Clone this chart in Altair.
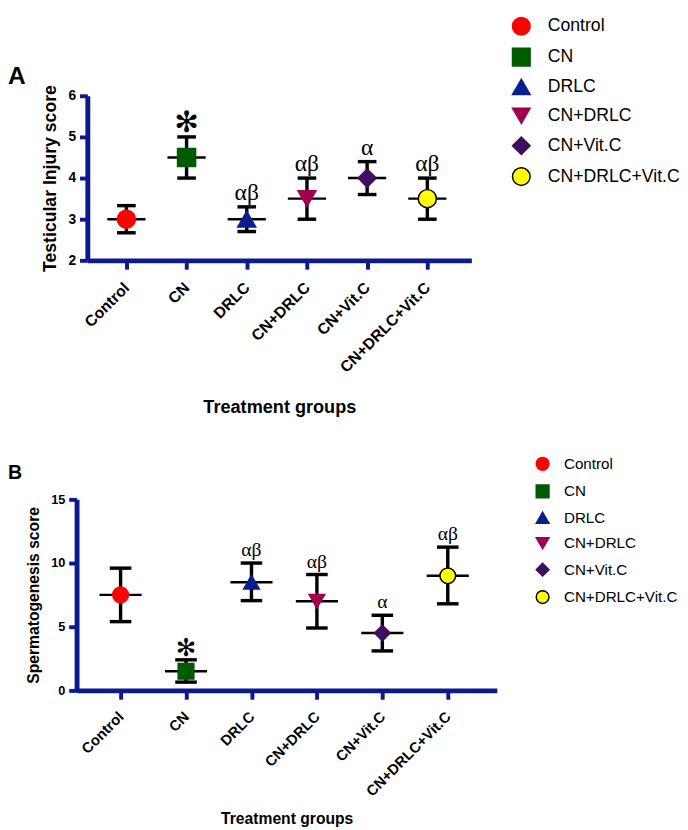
import altair as alt
import pandas as pd

groups = ["Control", "CN", "DRLC", "CN+DRLC", "CN+Vit.C", "CN+DRLC+Vit.C"]
fills = ["#FF0000", "#005A00", "#0A1E8C", "#A0004F", "#3D0F5E", "#FFFF00"]
strokes = ["#FF0000", "#005A00", "#0A1E8C", "#A0004F", "#3D0F5E", "#000000"]
shapes = ["circle", "square", "triangle-up", "triangle-down", "diamond", "circle"]

injury_mean = [3.0, 4.5, 3.0, 3.5, 4.0, 3.5]
injury_low = [2.67, 4.0, 2.7, 3.0, 3.6, 3.0]
injury_high = [3.33, 5.0, 3.3, 4.0, 4.4, 4.0]
injury_sig = ["", "✻", "αβ", "αβ", "α", "αβ"]

sperm_mean = [7.5, 1.5, 8.5, 7.0, 4.5, 9.0]
sperm_low = [5.4, 0.65, 7.05, 4.9, 3.1, 6.8]
sperm_high = [9.6, 2.4, 10.0, 9.1, 5.9, 11.25]
sperm_sig = ["", "✻", "αβ", "αβ", "α", "αβ"]

NAVY = "#0B1A8C"
SANS = "Liberation Sans"
SERIF = "Liberation Serif"


def panel(mean, low, high, sig, letter, ytitle, ydomain, yvalues, width, height,
          xstart, pad, align, xlab_size, ylab_size, ytitle_size, xtitle_size, cap,
          meanw, msize, leg_x, leg_y, leg_font, leg_sym, leg_row, leg_off,
          letter_size, letter_x, letter_y, greek_size, star_size, star_dy,
          xlab_pad, xtitle_pad):
    df = pd.DataFrame({"group": groups, "mean": mean, "low": low,
                       "high": high, "sig": sig})
    xaxis = alt.Axis(title="Treatment groups", labelAngle=-45, labelAlign="right",
                     labelBaseline="middle", labelFont=SANS, labelFontWeight="bold",
                     labelFontSize=xlab_size, labelColor="black",
                     labelPadding=xlab_pad, domainColor=NAVY, domainWidth=5,
                     tickColor=NAVY, tickWidth=4, tickSize=9, titleFont=SANS,
                     titleFontWeight="bold", titleFontSize=xtitle_size,
                     titleColor="black", titlePadding=xtitle_pad, grid=False)
    yaxis = alt.Axis(title=ytitle, values=yvalues, labelFont=SANS,
                     labelFontWeight="bold", labelFontSize=ylab_size,
                     labelColor="black", labelPadding=4, domainColor=NAVY,
                     domainWidth=5, tickColor=NAVY, tickWidth=4, tickSize=8,
                     titleFont=SANS, titleFontWeight="bold",
                     titleFontSize=ytitle_size, titleColor="black",
                     titlePadding=9, grid=False, offset=-xstart)
    xscale = alt.Scale(type="point", padding=pad, align=align,
                       range=[xstart, width])
    yscale = alt.Scale(domain=ydomain, nice=False, zero=False)

    def X():
        return alt.X("group:N", sort=groups, scale=xscale, axis=xaxis)

    def Y(f):
        return alt.Y(f + ":Q", scale=yscale, axis=yaxis)

    base = alt.Chart(df)
    rule = base.mark_rule(color="black", strokeWidth=3.5).encode(
        x=X(), y=Y("low"), y2="high:Q")
    cap_lo = base.mark_tick(color="black", size=cap, thickness=3.5, opacity=1).encode(
        x=X(), y=Y("low"))
    cap_hi = base.mark_tick(color="black", size=cap, thickness=3.5, opacity=1).encode(
        x=X(), y=Y("high"))
    mline = base.mark_tick(color="black", size=meanw, thickness=2.5, opacity=1).encode(
        x=X(), y=Y("mean"))

    leg = alt.Legend(title=None, orient="none", legendX=leg_x, legendY=leg_y,
                     labelFont=SANS, labelFontSize=leg_font, labelColor="black",
                     symbolSize=leg_sym, symbolStrokeWidth=1.5, rowPadding=leg_row,
                     labelOffset=leg_off, padding=0, symbolOpacity=1)
    pts = base.mark_point(filled=True, size=msize, strokeWidth=1.5, opacity=1).encode(
        x=X(), y=Y("mean"),
        color=alt.Color("group:N", sort=groups,
                        scale=alt.Scale(domain=groups, range=fills), legend=leg),
        shape=alt.Shape("group:N", sort=groups,
                        scale=alt.Scale(domain=groups, range=shapes), legend=leg),
        stroke=alt.Stroke("group:N", sort=groups,
                          scale=alt.Scale(domain=groups, range=strokes), legend=leg),
    )
    greek = base.transform_filter(
        "datum.sig == 'α' || datum.sig == 'αβ'"
    ).mark_text(font=SERIF, fontSize=greek_size, baseline="alphabetic",
                dy=-7, color="black").encode(x=X(), y=Y("high"), text="sig:N")
    star = base.transform_filter("datum.sig == '✻'").mark_text(
        font="DejaVu Sans", fontSize=star_size, baseline="middle",
        dy=star_dy, color="black").encode(x=X(), y=Y("high"), text="sig:N")

    panel_label = alt.Chart(pd.DataFrame({"label": [letter]})).mark_text(
        font=SANS, fontSize=letter_size, fontWeight="bold", color="black",
        align="left", baseline="alphabetic").encode(
        x=alt.value(letter_x), y=alt.value(letter_y), text="label:N")

    return alt.layer(rule, cap_lo, cap_hi, mline, pts, greek, star,
                     panel_label).properties(width=width, height=height)


chart_a = panel(injury_mean, injury_low, injury_high, injury_sig, "A",
                "Testicular Injury score", [2, 6], [2, 3, 4, 5, 6], 403, 168,
                11, 0.69, 0.47, 16, 14, 18, 18.5, 19, 39, 340,
                444, -81, 18, 324, 7.5, 17, 25, -70, -12, 24, 30, -14,
                16, 23)
chart_b = panel(sperm_mean, sperm_low, sperm_high, sperm_sig, "B",
                "Spermatogenesis score", [0, 15], [0, 5, 10, 15], 429, 195,
                0, 0.711, 0.473, 15, 13, 16, 16, 22, 43, 256,
                468, -44, 15.5, 169, 8, 14, 20, -70, -21, 20, 25, -12,
                15, 12)

chart = alt.vconcat(chart_a, chart_b, spacing=41).resolve_scale(
    color="independent", shape="independent", stroke="independent"
).resolve_legend(
    color="independent", shape="independent", stroke="independent"
).configure_view(stroke=None).properties(padding=0, background="white")

chart.save("out.html", embed_options={"renderer": "svg", "actions": False})
